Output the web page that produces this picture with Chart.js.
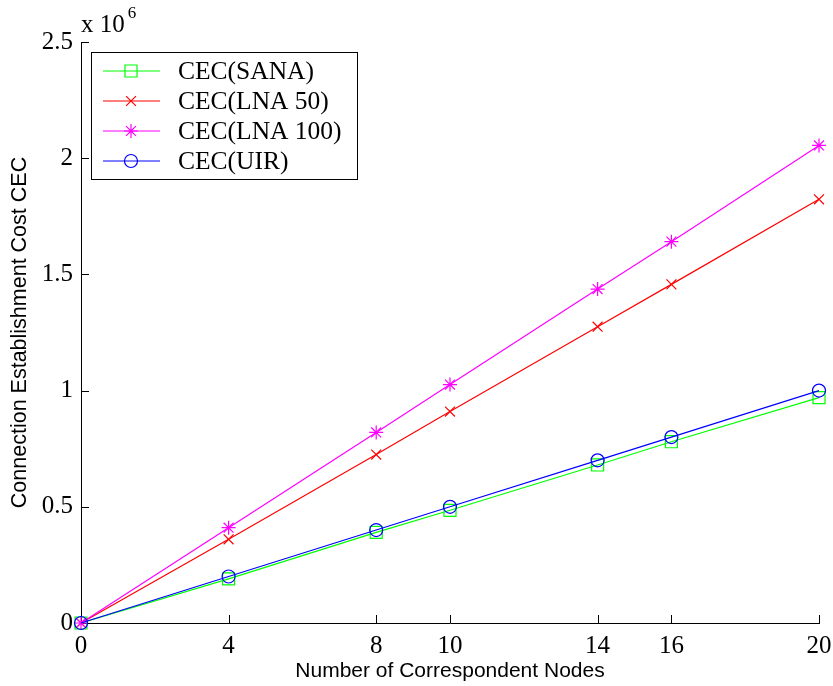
<!DOCTYPE html>
<html>
<head>
<meta charset="utf-8">
<script src="https://cdn.jsdelivr.net/npm/chart.js@4.4.0/dist/chart.umd.min.js"></script>
<style>
  html, body { margin: 0; padding: 0; background: #fff; }
  #wrap { width: 833px; height: 686px; }
</style>
</head>
<body>
<div id="wrap"><canvas id="chart" width="833" height="686"></canvas></div>
<script>
// Values (in units of 10^6)
const nodes = [0, 4, 8, 10, 14, 16, 20];
const cecSana = [0, 0.19, 0.39, 0.485, 0.68, 0.78, 0.97];
const cecLna50 = [0, 0.36, 0.725, 0.91, 1.275, 1.457, 1.823];
const cecLna100 = [0, 0.41, 0.82, 1.026, 1.437, 1.641, 2.055];
const cecUir = [0, 0.2, 0.4, 0.5, 0.7, 0.8, 1.0];

const xTicks = [0, 4, 8, 10, 14, 16, 20];
const yTicks = [0, 0.5, 1, 1.5, 2, 2.5];
const seriesNames = ['CEC(SANA)', 'CEC(LNA 50)', 'CEC(LNA 100)', 'CEC(UIR)'];

const serif = '"Liberation Serif", "Times New Roman", serif';
const sans = '"Liberation Sans", Arial, sans-serif';

function points(ys) {
    return nodes.map((x, i) => ({ x: x, y: ys[i] }));
}

function series(label, ys, color, style, radius, order) {
    return {
        label: label,
        data: points(ys),
        borderColor: color,
        borderWidth: 1.2,
        pointStyle: style,
        pointRadius: radius,
        pointHoverRadius: radius,
        pointBorderColor: color,
        pointBackgroundColor: 'rgba(0,0,0,0)',
        pointBorderWidth: 1.2,
        tension: 0,
        clip: false,
        order: order
    };
}

// MATLAB style ticks pointing into the plot
const inwardTicks = {
    id: 'inwardTicks',
    beforeDatasetsDraw(chart) {
        const { ctx, chartArea: a, scales: { x, y } } = chart;
        ctx.save();
        ctx.strokeStyle = '#000';
        ctx.lineWidth = 1;
        ctx.beginPath();
        x.ticks.forEach(t => {
            const px = Math.round(x.getPixelForValue(t.value)) + 0.5;
            ctx.moveTo(px, a.bottom);
            ctx.lineTo(px, a.bottom - 8);
        });
        y.ticks.forEach(t => {
            const py = Math.round(y.getPixelForValue(t.value)) + 0.5;
            ctx.moveTo(a.left, py);
            ctx.lineTo(a.left + 8, py);
        });
        ctx.stroke();
        ctx.restore();
    }
};

// Boxed legend inside the plot + exponent label
const boxLegend = {
    id: 'boxLegend',
    afterDraw(chart) {
        const { ctx, chartArea: a } = chart;
        const bx = a.left + 10, by = a.top + 10, bw = 266, bh = 127;

        ctx.save();
        ctx.fillStyle = '#fff';
        ctx.fillRect(bx, by, bw, bh);
        ctx.strokeStyle = '#000';
        ctx.lineWidth = 1;
        ctx.strokeRect(bx + 0.5, by + 0.5, bw, bh);

        chart.data.datasets.forEach((ds, i) => {
            const ry = by + 19 + i * 30;
            ctx.strokeStyle = ds.borderColor;
            ctx.lineWidth = ds.borderWidth;
            ctx.beginPath();
            ctx.moveTo(bx + 12, ry);
            ctx.lineTo(bx + 69, ry);
            ctx.stroke();
            ctx.fillStyle = 'rgba(0,0,0,0)';
            Chart.helpers.drawPoint(ctx, {
                pointStyle: ds.pointStyle,
                radius: ds.pointRadius,
                rotation: 0,
                borderWidth: ds.pointBorderWidth
            }, bx + 40, ry);

            ctx.fillStyle = '#000';
            ctx.font = '25.5px ' + serif;
            ctx.textBaseline = 'middle';
            ctx.textAlign = 'left';
            ctx.fillText(ds.label, bx + 87, ry + 1);
        });

        // x 10^6
        ctx.fillStyle = '#000';
        ctx.textBaseline = 'alphabetic';
        ctx.textAlign = 'left';
        ctx.font = '25px ' + serif;
        ctx.fillText('x 10', a.left, 32);
        const w = ctx.measureText('x 10').width;
        ctx.font = '17px ' + serif;
        ctx.fillText('6', a.left + w + 3, 18);
        ctx.restore();
    }
};

new Chart(document.getElementById('chart'), {
    type: 'line',
    data: {
        datasets: [
            series(seriesNames[0], cecSana, '#00ff00', 'rect', 8.5, 4),
            series(seriesNames[1], cecLna50, '#ff0000', 'crossRot', 7, 3),
            series(seriesNames[2], cecLna100, '#ff00ff', 'star', 7, 2),
            series(seriesNames[3], cecUir, '#0000ff', 'circle', 6.5, 1)
        ]
    },
    options: {
        responsive: false,
        animation: false,
        layout: { padding: { top: 42, right: 14, left: 0, bottom: 0 } },
        plugins: {
            legend: { display: false },
            tooltip: { enabled: false }
        },
        scales: {
            x: {
                type: 'linear',
                min: 0,
                max: 20,
                afterBuildTicks: scale => { scale.ticks = xTicks.map(v => ({ value: v })); },
                afterFit: scale => {
                    scale.height = 63;
                    scale.paddingLeft = 0;
                    scale.paddingRight = 0;
                },
                grid: { display: false, drawTicks: false },
                border: { display: true, color: '#000', width: 1 },
                ticks: {
                    color: '#000',
                    padding: 8,
                    maxRotation: 0,
                    font: { family: serif, size: 25 }
                },
                title: {
                    display: true,
                    text: 'Number of Correspondent Nodes',
                    color: '#000',
                    font: { family: sans, size: 21 },
                    padding: { top: 0, bottom: 2 }
                }
            },
            y: {
                type: 'linear',
                min: 0,
                max: 2.5,
                afterBuildTicks: scale => { scale.ticks = yTicks.map(v => ({ value: v })); },
                afterFit: scale => { scale.width = 81; },
                grid: { display: false, drawTicks: false },
                border: { display: true, color: '#000', width: 1 },
                ticks: {
                    color: '#000',
                    padding: 8,
                    font: { family: serif, size: 25 },
                    callback: v => String(v)
                },
                title: {
                    display: true,
                    text: 'Connection Establishment Cost CEC',
                    color: '#000',
                    font: { family: sans, size: 21.5 },
                    padding: { top: 7, bottom: 0 }
                }
            }
        }
    },
    plugins: [inwardTicks, boxLegend]
});
</script>
</body>
</html>
